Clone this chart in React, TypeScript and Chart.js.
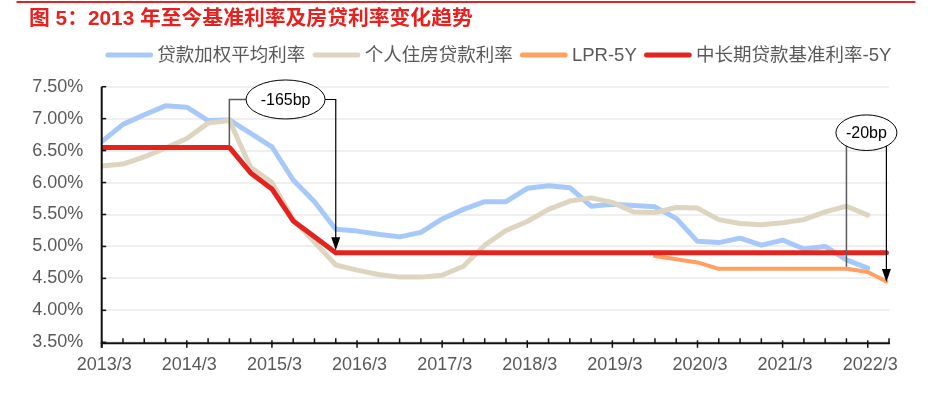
import React, { useEffect, useRef } from 'react';
import { Chart, registerables } from 'chart.js';

Chart.register(...registerables);

// ---------------- data ----------------
const TITLE = '图 5：2013 年至今基准利率及房贷利率变化趋势';

const QUARTERS = [
  '2013/3', '2013/6', '2013/9', '2013/12',
  '2014/3', '2014/6', '2014/9', '2014/12',
  '2015/3', '2015/6', '2015/9', '2015/12',
  '2016/3', '2016/6', '2016/9', '2016/12',
  '2017/3', '2017/6', '2017/9', '2017/12',
  '2018/3', '2018/6', '2018/9', '2018/12',
  '2019/3', '2019/6', '2019/9', '2019/12',
  '2020/3', '2020/6', '2020/9', '2020/12',
  '2021/3', '2021/6', '2021/9', '2021/12',
  '2022/3',
];

const LOAN_AVG = [
  6.64, 6.91, 7.06, 7.20,
  7.18, 6.97, 6.98, 6.77,
  6.56, 6.04, 5.70, 5.27,
  5.24, 5.19, 5.15, 5.22,
  5.43, 5.58, 5.70, 5.70,
  5.91, 5.95, 5.92, 5.63,
  5.66, 5.64, 5.62, 5.44,
  5.08, 5.06, 5.13, 5.02,
  5.10, 4.96, 5.00, 4.79,
  4.66,
];

const MORTGAGE = [
  6.26, 6.29, 6.40, 6.54,
  6.69, 6.93, 6.97, 6.24,
  6.00, 5.42, 5.07, 4.71,
  4.63, 4.56, 4.52, 4.52,
  4.55, 4.69, 5.02, 5.25,
  5.39, 5.58, 5.71, 5.76,
  5.69, 5.54, 5.53, 5.61,
  5.60, 5.42, 5.36, 5.34,
  5.37, 5.42, 5.54, 5.63,
  5.49,
];

const LPR_DATES = [
  '2019/9', '2019/12', '2020/3', '2020/6', '2020/9', '2020/12',
  '2021/3', '2021/6', '2021/9', '2021/12', '2022/3', '2022/5/20',
];
const LPR_5Y = [4.85, 4.80, 4.75, 4.65, 4.65, 4.65, 4.65, 4.65, 4.65, 4.65, 4.60, 4.45];

const BENCH_DATES = ['2013/3', '2014/9', '2014/12', '2015/3', '2015/6', '2015/9', '2015/12', '2022/5/20'];
const BENCH_5Y = [6.55, 6.55, 6.15, 5.90, 5.40, 5.15, 4.90, 4.90];

const SERIES_NAMES = ['贷款加权平均利率', '个人住房贷款利率', 'LPR-5Y', '中长期贷款基准利率-5Y'];

const X_TICK_LABELS = ['2013/3', '2014/3', '2015/3', '2016/3', '2017/3', '2018/3', '2019/3', '2020/3', '2021/3', '2022/3'];
const AXIS_START = '2013/3';
const AXIS_END = '2022/6';
const Y_MIN = 3.5;
const Y_MAX = 7.5;
const Y_STEP = 0.5;

const ANNOTATIONS = [
  { label: '-165bp', fromDate: '2014/9', fromValue: 6.55, toDate: '2015/12', toValue: 4.90, topValue: 7.30 },
  { label: '-20bp', fromDate: '2021/12', fromValue: 4.65, toDate: '2022/5/20', toValue: 4.45, topValue: 6.78 },
];

// ---------------- style ----------------
const FONT = '"Liberation Sans", Arial, "Noto Sans CJK SC", sans-serif';
const COLORS = ['#A7C9FA', '#DED5C0', '#FFA060', '#E3231E'];
const WIDTHS = [5, 5, 4, 5];
const ORDERS = [3, 2, 1, 0];
const TEXT_GRAY = '#595959';
const TITLE_RED = '#E42320';
const ELLIPSES = [
  { rx: 39.5, ry: 19.5, dx: 3, tipOffset: -2.5, fromOffset: -2.5 },
  { rx: 30.5, ry: 17.8, dx: 0, tipOffset: 0.5, fromOffset: -2 },
];

function toMonth(s: string): number {
  const [y, m, d] = s.split('/').map(Number);
  const [y0, m0] = AXIS_START.split('/').map(Number);
  return (y - y0) * 12 + (m - m0) + (d ? (d - 1) / 30 : 0);
}

function pts(dates: string[], vals: number[]) {
  return dates.map((d, i) => ({ x: toMonth(d), y: vals[i] }));
}

const decorPlugin = {
  id: 'decor',
  afterDatasetsDraw(chart: any) {
    const { ctx, chartArea: ca, scales } = chart;
    const x = scales.x;
    const y = scales.y;
    const line = (x1: number, y1: number, x2: number, y2: number) => {
      ctx.beginPath();
      ctx.moveTo(x1, y1);
      ctx.lineTo(x2, y2);
      ctx.stroke();
    };
    ctx.save();
    ctx.lineCap = 'butt';
    // axes
    ctx.strokeStyle = '#111';
    ctx.lineWidth = 2;
    line(ca.left, ca.top, ca.left, ca.bottom + 5.5);
    line(ca.left - 1, ca.bottom + 1, ca.right + 1, ca.bottom + 1);
    ctx.lineWidth = 1.5;
    for (let v = Y_MIN; v <= Y_MAX + 1e-9; v += Y_STEP) {
      const py = y.getPixelForValue(v);
      line(ca.left, py, ca.left + 4.5, py);
    }
    const majors = X_TICK_LABELS.map(toMonth);
    x.ticks.forEach((t: any) => {
      const px = x.getPixelForValue(t.value);
      if (majors.some((m) => Math.abs(m - t.value) < 1e-6)) line(px, ca.bottom - 2, px, ca.bottom + 5.5);
      else line(px, ca.bottom - 4, px, ca.bottom + 1);
    });

    // annotations
    ANNOTATIONS.forEach((a, i) => {
      const st = ELLIPSES[i];
      const x1 = x.getPixelForValue(toMonth(a.fromDate));
      const x2 = x.getPixelForValue(toMonth(a.toDate));
      const y1 = y.getPixelForValue(a.fromValue) + st.fromOffset;
      const y2 = y.getPixelForValue(a.toValue) + st.tipOffset;
      const yt = y.getPixelForValue(a.topValue);
      const cx = (x1 + x2) / 2 + st.dx;
      ctx.strokeStyle = '#5a5a5a';
      ctx.lineWidth = 1.5;
      ctx.beginPath();
      ctx.moveTo(x1, y1);
      ctx.lineTo(x1, yt);
      ctx.lineTo(cx, yt);
      ctx.stroke();
      ctx.strokeStyle = '#000';
      ctx.lineWidth = 1.2;
      ctx.beginPath();
      ctx.moveTo(cx, yt);
      ctx.lineTo(x2, yt);
      ctx.lineTo(x2, y2 - 10);
      ctx.stroke();
      ctx.fillStyle = '#000';
      ctx.beginPath();
      ctx.moveTo(x2, y2);
      ctx.lineTo(x2 - 4.5, y2 - 13);
      ctx.lineTo(x2 + 4.5, y2 - 13);
      ctx.closePath();
      ctx.fill();
      ctx.beginPath();
      ctx.ellipse(cx, yt, st.rx, st.ry, 0, 0, Math.PI * 2);
      ctx.fillStyle = '#fff';
      ctx.fill();
      ctx.strokeStyle = '#000';
      ctx.lineWidth = 1;
      ctx.stroke();
      ctx.fillStyle = '#000';
      ctx.font = `16px ${FONT}`;
      ctx.textAlign = 'center';
      ctx.textBaseline = 'middle';
      ctx.fillText(a.label, cx, yt + 1);
    });
    ctx.restore();
  },
  afterDraw(chart: any) {
    const { ctx, chartArea: ca } = chart;
    ctx.save();
    // title + top rule
    ctx.fillStyle = TITLE_RED;
    ctx.fillRect(16.5, 1, 899, 2);
    ctx.font = `bold 20.8px ${FONT}`;
    ctx.textAlign = 'left';
    ctx.textBaseline = 'middle';
    ctx.fillText(TITLE, 29, 19);

    // legend
    ctx.font = `18.5px ${FONT}`;
    const items = chart.data.datasets.map((ds: any) => ({
      label: ds.label,
      color: ds.borderColor,
      w: ctx.measureText(ds.label).width,
    }));
    const SAMPLE = 47.7;
    const G1 = 4.3;
    const G2 = 7.3;
    let total = 0;
    items.forEach((it: any) => (total += SAMPLE + G1 + it.w));
    total += G2 * (items.length - 1);
    let lx = (ca.left + ca.right) / 2 + 3 - total / 2;
    const ly = 55;
    items.forEach((it: any) => {
      ctx.strokeStyle = it.color;
      ctx.lineWidth = 5;
      ctx.lineCap = 'round';
      ctx.beginPath();
      ctx.moveTo(lx + 2.5, ly);
      ctx.lineTo(lx + SAMPLE - 2.5, ly);
      ctx.stroke();
      ctx.fillStyle = TEXT_GRAY;
      ctx.fillText(it.label, lx + SAMPLE + G1, ly + 1);
      lx += SAMPLE + G1 + it.w + G2;
    });
    ctx.restore();
  },
};

export default function App() {
  const ref = useRef<HTMLCanvasElement>(null);
  useEffect(() => {
    if (!ref.current) return;
    const seriesData = [
      pts(QUARTERS, LOAN_AVG),
      pts(QUARTERS, MORTGAGE),
      pts(LPR_DATES, LPR_5Y),
      pts(BENCH_DATES, BENCH_5Y),
    ];
    const chart = new Chart(ref.current, {
      type: 'line',
      data: {
        datasets: seriesData.map((d, i) => ({
          label: SERIES_NAMES[i],
          data: d,
          borderColor: COLORS[i],
          backgroundColor: COLORS[i],
          borderWidth: WIDTHS[i],
          order: ORDERS[i],
          pointRadius: 0,
          pointHoverRadius: 0,
          tension: 0,
          fill: false,
          borderCapStyle: 'round',
          borderJoinStyle: 'round',
        })),
      },
      options: {
        responsive: false,
        devicePixelRatio: 1,
        animation: false,
        events: [],
        layout: { padding: { top: 86.7, right: 54, bottom: 10, left: 0 } },
        plugins: {
          legend: { display: false },
          title: { display: false },
          tooltip: { enabled: false },
        },
        scales: {
          x: {
            type: 'linear',
            min: toMonth(AXIS_START),
            max: toMonth(AXIS_END),
            afterFit: (s: any) => {
              s.height = 43.7;
            },
            grid: { display: false, drawTicks: false },
            border: { display: false },
            ticks: {
              stepSize: 3,
              autoSkip: false,
              maxRotation: 0,
              minRotation: 0,
              padding: 11.5,
              labelOffset: 2.5,
              color: TEXT_GRAY,
              font: { family: FONT, size: 18 },
              callback: (v: any) => {
                const lab = X_TICK_LABELS.find((l) => Math.abs(toMonth(l) - Number(v)) < 1e-6);
                return lab || '';
              },
            },
          },
          y: {
            min: Y_MIN,
            max: Y_MAX,
            afterFit: (s: any) => {
              s.width = 101.7;
            },
            grid: { color: '#EFEFEF', lineWidth: 2, drawTicks: false },
            border: { display: false },
            ticks: {
              stepSize: Y_STEP,
              padding: 18.4,
              color: TEXT_GRAY,
              font: { family: FONT, size: 18 },
              callback: (v: any) => Number(v).toFixed(2) + '%',
            },
          },
        },
      },
      plugins: [decorPlugin],
    } as any);
    return () => chart.destroy();
  }, []);

  return (
    <div style={{ position: 'fixed', left: 0, top: 0, width: 943, height: 396, background: '#fff' }}>
      <canvas ref={ref} width={943} height={396} style={{ width: 943, height: 396, display: 'block' }} />
    </div>
  );
}
